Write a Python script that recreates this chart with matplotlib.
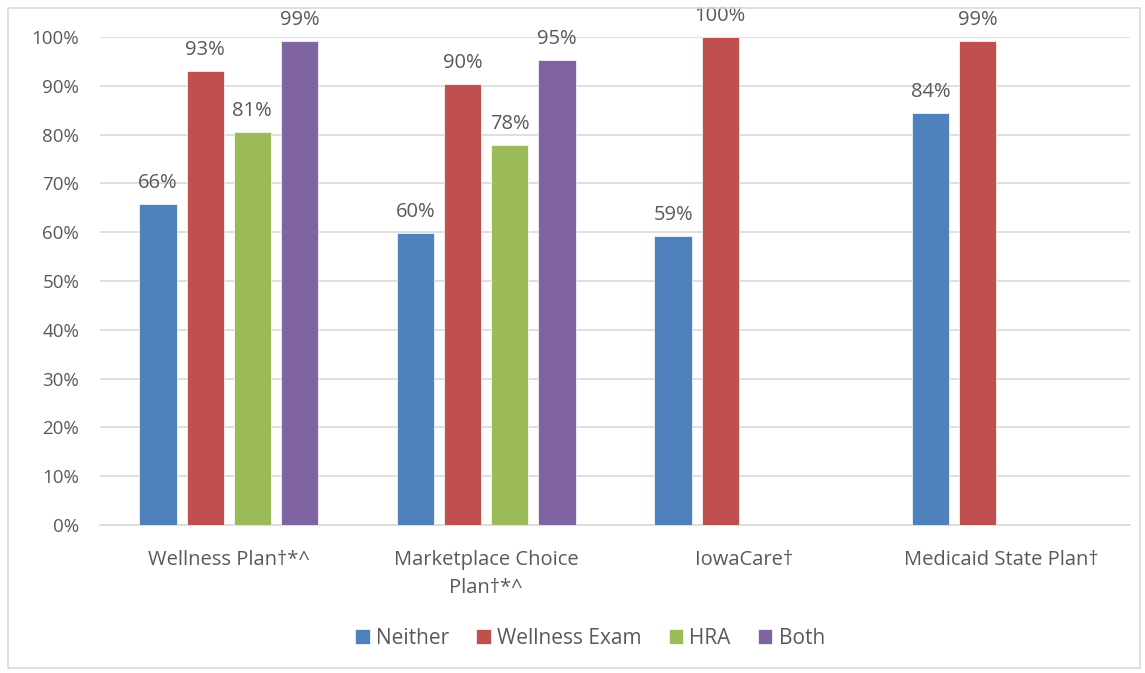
import numpy as np
import matplotlib.pyplot as plt
from matplotlib.patches import Rectangle

# data (percent)
plans = ['Wellness Plan\u2020*^', 'Marketplace Choice\nPlan\u2020*^', 'IowaCare\u2020', 'Medicaid State Plan\u2020']
series = ['Neither', 'Wellness Exam', 'HRA', 'Both']
neither = [65.8, 59.8, 59.2, 84.4]
wellness_exam = [93.0, 90.4, 100.0, 99.2]
hra = [80.6, 77.9, np.nan, np.nan]
both = [99.2, 95.3, np.nan, np.nan]
colors = ['#4F81BD', '#C0504D', '#9BBB59', '#8064A2']

plt.rcParams['font.family'] = ['Open Sans', 'DejaVu Sans']
txt = '#595959'

fig = plt.figure(figsize=(11.45, 6.73), dpi=100)
ax = fig.add_axes([100/1145, 148/673, 1030/1145, 488/673])

x = np.arange(len(plans))
step = 0.183
width = 0.145
for i, (name, vals, c) in enumerate(zip(series, [neither, wellness_exam, hra, both], colors)):
    pos = x + (i - 1.5) * step
    ax.bar(pos, vals, width, color=c, label=name, edgecolor='white', linewidth=0.5, zorder=3)
    for p, v in zip(pos, vals):
        if not np.isnan(v):
            ax.annotate(f'{v:.0f}%', (p, v), xytext=(0, 8), textcoords='offset points',
                        ha='center', va='bottom', fontsize=14.5, color=txt, annotation_clip=False)

ax.set_xlim(-0.5, 3.5)
ax.set_ylim(0, 100)
ax.set_yticks(range(0, 101, 10))
ax.set_yticklabels([f'{t}%' for t in range(0, 101, 10)])
ax.set_xticks(x)
ax.set_xticklabels(plans, fontsize=14.5, linespacing=1.55)
ax.tick_params(axis='both', length=0, labelcolor=txt)
ax.tick_params(axis='y', pad=15, labelsize=13.5)
ax.tick_params(axis='x', pad=18)
ax.grid(axis='y', color='#D9D9D9', linewidth=1.2, zorder=0)
for s in ['top', 'right', 'left']:
    ax.spines[s].set_visible(False)
ax.spines['bottom'].set_color('#D9D9D9')
ax.spines['bottom'].set_linewidth(1.2)

leg = fig.legend(loc='center', bbox_to_anchor=(590/1145, 1 - 638/673), ncol=4, frameon=False,
                 fontsize=15, handlelength=0.7, handleheight=0.7, handletextpad=0.3, columnspacing=1.3)
for t in leg.get_texts():
    t.set_color(txt)

fig.patches.append(Rectangle((8/1145, 5/673), 1132/1145, 660/673, transform=fig.transFigure,
                             fill=False, edgecolor='#D9D9D9', linewidth=1.2))

fig.savefig('out.png', dpi=100)
